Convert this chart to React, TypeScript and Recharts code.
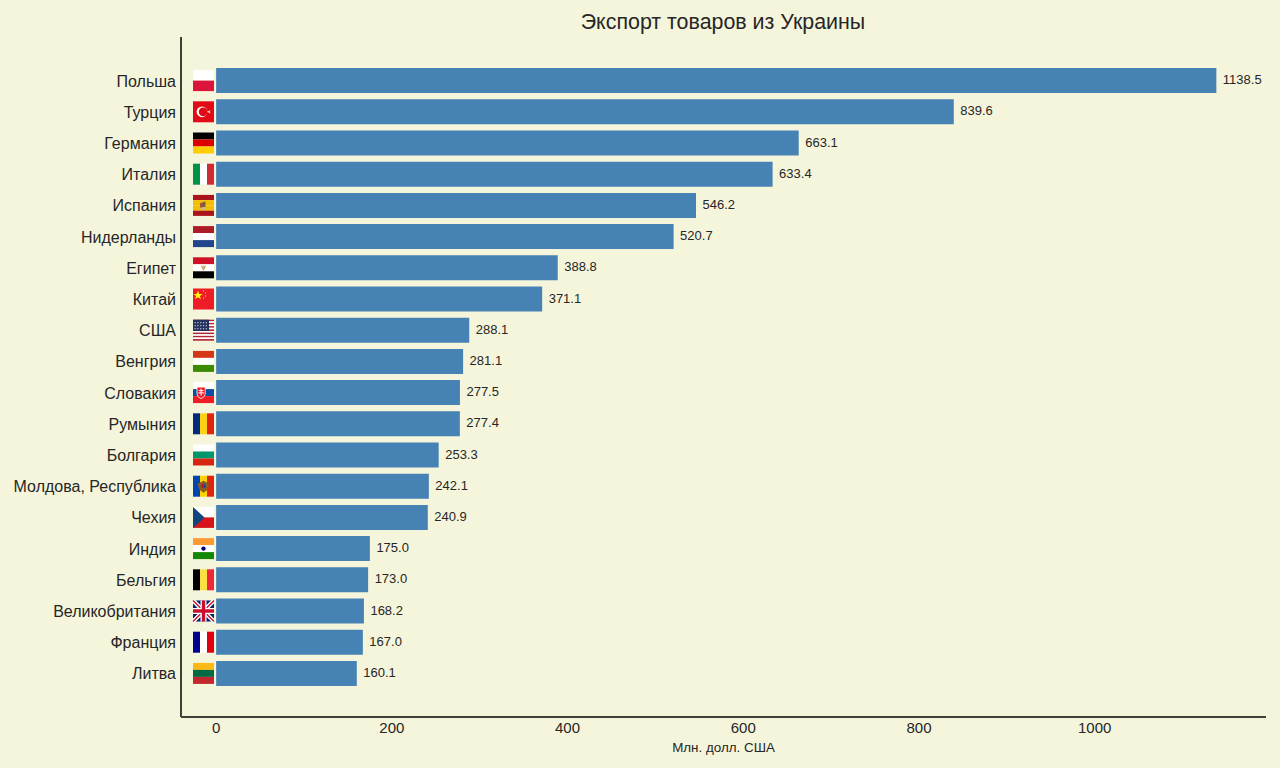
import { Bar, BarChart, LabelList, XAxis, YAxis } from "recharts";

const countries = [
  "Польша", "Турция", "Германия", "Италия", "Испания", "Нидерланды", "Египет", "Китай", "США", "Венгрия",
  "Словакия", "Румыния", "Болгария", "Молдова, Республика", "Чехия", "Индия", "Бельгия", "Великобритания", "Франция", "Литва",
];
const exportsMln = [
  1138.5, 839.6, 663.1, 633.4, 546.2, 520.7, 388.8, 371.1, 288.1, 281.1,
  277.5, 277.4, 253.3, 242.1, 240.9, 175.0, 173.0, 168.2, 167.0, 160.1,
];
const xTicks = [0, 200, 400, 600, 800, 1000];

const chartData = countries.map((name, i) => ({ name, value: exportsMln[i] }));

const FONT = "'Liberation Sans', Arial, sans-serif";
const TEXT = "#262626";
const SPINE = "#404038";

const hStripes = (colors: string[]) =>
  colors.map((c, i) => <rect key={i} x={0} y={(i * 21) / colors.length} width={21} height={21 / colors.length} fill={c} />);
const vStripes = (colors: string[]) =>
  colors.map((c, i) => <rect key={i} x={(i * 21) / colors.length} y={0} width={21 / colors.length} height={21} fill={c} />);

const flags: { [name: string]: React.ReactNode } = {
  "Польша": hStripes(["#ffffff", "#dc143c"]),
  "Турция": (
    <>
      <rect width={21} height={21} fill="#e30a17" />
      <circle cx={9} cy={10.5} r={5.4} fill="#fff" />
      <circle cx={10.2} cy={10.5} r={4.4} fill="#e30a17" />
      <path d="M14 10.5l3.600-1.600-1.100 1.600 1.100 1.600z" fill="#fff" />
    </>
  ),
  "Германия": hStripes(["#000000", "#dd0000", "#ffce00"]),
  "Италия": vStripes(["#009246", "#ffffff", "#ce2b37"]),
  "Испания": (
    <>
      {hStripes(["#aa151b", "#f1bf00", "#f1bf00", "#aa151b"])}
      <rect x={7} y={8} width={3} height={5} fill="#a8552a" />
      <rect x={9.500} y={7} width={3} height={5} fill="#7a5a48" />
      <rect x={7.500} y={12.500} width={4.500} height={2} fill="#c8b8a8" />
    </>
  ),
  "Нидерланды": hStripes(["#ae1c28", "#ffffff", "#21468b"]),
  "Египет": (
    <>
      {hStripes(["#ce1126", "#ffffff", "#000000"])}
      <path d="M8 8.500h5l-1 3-1.500 2-1.500-2z" fill="#d0b070" />
    </>
  ),
  "Китай": (
    <>
      <rect width={21} height={21} fill="#ee1c25" />
      <path d="M5 2l1.200 3.400h3.400l-2.800 2 1.100 3.400L5 8.800l-2.900 2 1.100-3.400-2.800-2h3.400z" fill="#ffff00" />
      <rect x={10} y={2} width={1} height={1} fill="#ffff00" />
      <rect x={12} y={4} width={1} height={1} fill="#ffff00" />
      <rect x={12} y={7} width={1} height={1} fill="#ffff00" />
      <rect x={10} y={9} width={1} height={1} fill="#ffff00" />
    </>
  ),
  "США": (
    <>
      {hStripes(["#b22234", "#ffffff", "#b22234", "#ffffff", "#b22234", "#ffffff", "#b22234", "#ffffff", "#b22234", "#ffffff", "#b22234", "#ffffff", "#b22234"])}
      <rect width={16} height={11.300} fill="#24305e" />
      <path d="M1.500 3h13M1.500 6h13M1.500 9h13" stroke="#e8e8f0" strokeWidth={1.100} strokeDasharray="1.200 1.600" />
    </>
  ),
  "Венгрия": hStripes(["#d43516", "#ffffff", "#3d8a00"]),
  "Словакия": (
    <>
      {hStripes(["#ffffff", "#0b4ea2", "#ee1c25"])}
      <path d="M4 5h8.200v7q0 3-4.100 4.500q-4.100-1.500-4.100-4.500z" fill="#ee1c25" stroke="#fff" strokeWidth={0.800} />
      <path d="M8.100 6.500v7M5.800 8.500h4.600M5.300 10.800h5.600" stroke="#fff" strokeWidth={1} />
    </>
  ),
  "Румыния": vStripes(["#002b7f", "#fcd116", "#e0250f"]),
  "Болгария": hStripes(["#ffffff", "#00966e", "#d62612"]),
  "Молдова, Республика": (
    <>
      {vStripes(["#0046ae", "#ffd200", "#e0250f"])}
      <path d="M4.500 8l6-3 6 3-2 6-4 3-4-3z" fill="#8a5a20" />
      <rect x={8.500} y={8.500} width={2} height={3.500} fill="#cc092f" />
      <rect x={10.500} y={8.500} width={2} height={3.500} fill="#0046ae" />
    </>
  ),
  "Чехия": (
    <>
      {hStripes(["#ffffff", "#d7141a"])}
      <path d="M0 0L11.500 10.500L0 21z" fill="#11457e" />
    </>
  ),
  "Индия": (
    <>
      {hStripes(["#ff9933", "#ffffff", "#138808"])}
      <circle cx={10.500} cy={10.500} r={2.200} fill="#000080" />
    </>
  ),
  "Бельгия": vStripes(["#000000", "#fae042", "#ed2939"]),
  "Великобритания": (
    <>
      <rect width={21} height={21} fill="#012169" />
      <path d="M0 0L21 21M21 0L0 21" stroke="#fff" strokeWidth={4} />
      <path d="M0 0L21 21M21 0L0 21" stroke="#c8102e" strokeWidth={1.400} />
      <path d="M10.500 0V21M0 10.500H21" stroke="#fff" strokeWidth={6} />
      <path d="M10.500 0V21M0 10.500H21" stroke="#c8102e" strokeWidth={3.400} />
    </>
  ),
  "Франция": vStripes(["#000091", "#ffffff", "#e1000f"]),
  "Литва": hStripes(["#fdb913", "#006a44", "#c1272d"]),
};

// y axis tick = country name plus its flag right of the axis line
function CountryTick({ x, y, payload }: any) {
  return (
    <g>
      <text x={x - 5} y={y} dy={6} textAnchor="end" fontSize={16} fontFamily={FONT} fill={TEXT}>
        {payload.value}
      </text>
      <g transform={`translate(${x + 12},${y - 10.5})`}>{flags[payload.value]}</g>
    </g>
  );
}

export default function App() {
  return (
    <div style={{ position: "absolute", left: 0, top: 0, width: 1280, height: 768, background: "#f5f5dc", overflow: "hidden" }}>
      <div
        style={{
          position: "absolute", left: 163, width: 1120, top: 9, textAlign: "center",
          fontFamily: FONT, fontSize: 21.4, color: TEXT, lineHeight: "26px",
        }}
      >
        Экспорт товаров из Украины
      </div>
      <BarChart
        layout="vertical"
        width={1280}
        height={768}
        data={chartData}
        margin={{ top: 37, right: 14, bottom: 0, left: 0 }}
        barCategoryGap="10%"
      >
        <XAxis
          type="number"
          domain={[-40, 1195]}
          ticks={xTicks}
          height={51}
          tickLine={false}
          tickSize={0}
          tickMargin={5}
          axisLine={{ stroke: SPINE, strokeWidth: 2 }}
          tick={{ fontSize: 15, fontFamily: FONT, fill: TEXT }}
          label={{ value: "Млн. долл. США", position: "insideBottom", offset: 16, fontSize: 13.4, fontFamily: FONT, fill: TEXT }}
        />
        <YAxis
          type="category"
          dataKey="name"
          width={181}
          interval={0}
          tickLine={false}
          tickSize={0}
          tickMargin={0}
          padding={{ top: 28, bottom: 28 }}
          axisLine={{ stroke: SPINE, strokeWidth: 2 }}
          tick={<CountryTick />}
        />
        <Bar dataKey="value" fill="#4682b4" isAnimationActive={false}>
          <LabelList
            dataKey="value"
            position="right"
            offset={6.5}
            formatter={(v: any) => Number(v).toFixed(1)}
            fontSize={13}
            fontFamily={FONT}
            fill={TEXT}
            dy={-1}
          />
        </Bar>
      </BarChart>
    </div>
  );
}
